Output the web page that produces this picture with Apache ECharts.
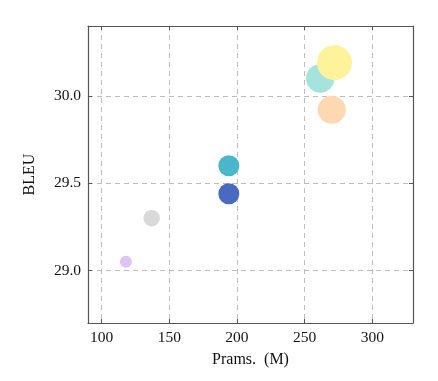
<!DOCTYPE html>
<html>
<head>
<meta charset="utf-8">
<script src="https://cdn.jsdelivr.net/npm/echarts@6/dist/echarts.min.js"></script>
<style>
html,body{margin:0;padding:0;background:#fff;}
#c{width:438px;height:381px;}
</style>
</head>
<body>
<div id="c"></div>
<script>
// ---- data ----
const params = [118, 137, 194, 194, 261.5, 270, 272];      // Prams. (M)
const bleu   = [29.05, 29.30, 29.44, 29.60, 30.10, 29.92, 30.19];
const xTickLabels = ['100', '150', '200', '250', '300'];
const yTickLabels = ['29.0', '29.5', '30.0'];

// ---- styles ----
const markerDiameters = [12, 16.5, 21, 21, 28.5, 28, 35];
const markerColors = ['#dec3f7', '#d9d9d9', '#4b69c1', '#49b6cb', '#a6e3dc', '#fed8b1', '#fef39b'];
const FONT = 'Liberation Serif';

const chart = echarts.init(document.getElementById('c'), null, {renderer: 'canvas'});

const frameColor = '#555';
const gridLine = {show: true, lineStyle: {color: '#bdbdbd', type: [5, 4], width: 1}};

const xBase = {
  type: 'value', min: 90, max: 330, splitNumber: 5,
  axisLine: {show: true, onZero: false, lineStyle: {color: frameColor, width: 1.2}},
  axisTick: {show: true, inside: true, length: 4, lineStyle: {color: frameColor}},
};
const yBase = {
  type: 'value', min: 28.7, max: 30.4, splitNumber: 3,
  axisLine: {show: true, onZero: false, lineStyle: {color: frameColor, width: 1.2}},
  axisTick: {show: true, inside: true, length: 4, lineStyle: {color: frameColor}},
};

chart.setOption({
  animation: false,
  backgroundColor: '#fff',
  grid: {left: 88, right: 25, top: 26, bottom: 58},
  xAxis: [
    Object.assign({}, xBase, {
      position: 'bottom',
      name: 'Prams.  (M)', nameLocation: 'middle', nameGap: 29,
      nameTextStyle: {fontFamily: FONT, fontSize: 16, color: '#111'},
      splitLine: gridLine,
      axisLabel: {
        show: true, margin: 7, fontFamily: FONT, fontSize: 15.5, color: '#111',
        showMinLabel: false, showMaxLabel: false,
        formatter: v => xTickLabels.includes(String(v)) ? String(v) : ''
      }
    }),
    Object.assign({}, xBase, {
      position: 'top', splitLine: {show: false}, axisLabel: {show: false}
    })
  ],
  yAxis: [
    Object.assign({}, yBase, {
      position: 'left',
      name: 'BLEU', nameLocation: 'middle', nameGap: 50, nameRotate: 90,
      nameTextStyle: {fontFamily: FONT, fontSize: 16, color: '#111'},
      splitLine: gridLine,
      axisLabel: {
        show: true, margin: 7, fontFamily: FONT, fontSize: 15.5, color: '#111',
        showMinLabel: false, showMaxLabel: false,
        formatter: v => { const s = Number(v).toFixed(1); return yTickLabels.includes(s) ? s : ''; }
      }
    }),
    Object.assign({}, yBase, {
      position: 'right', splitLine: {show: false}, axisLabel: {show: false}
    })
  ],
  series: [{
    type: 'scatter',
    xAxisIndex: 0, yAxisIndex: 0,
    data: params.map((p, i) => ({
      value: [p, bleu[i]],
      symbolSize: markerDiameters[i],
      itemStyle: {color: markerColors[i], opacity: 1}
    })),
    emphasis: {disabled: true},
    z: 5
  }]
});
</script>
</body>
</html>
